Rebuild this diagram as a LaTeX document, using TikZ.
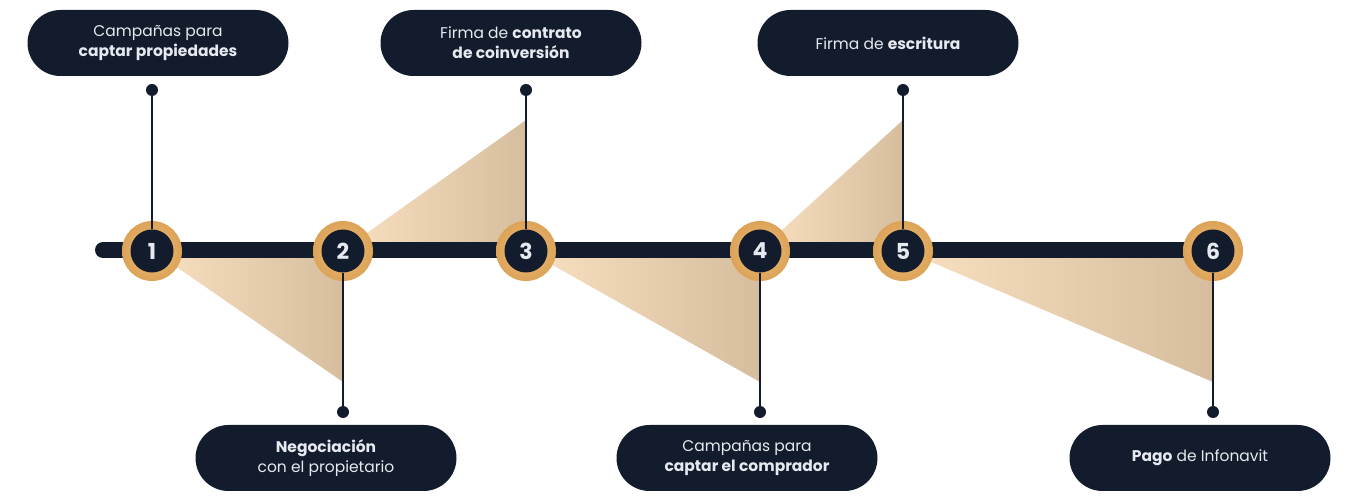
\documentclass[tikz,border=0pt]{standalone}
\usepackage{fontspec}
\setmainfont{Poppins}
\usetikzlibrary{positioning}
\definecolor{navy}{HTML}{131C2C}
\definecolor{paper}{HTML}{E6E9EF}
\definecolor{goldA}{HTML}{F0C07A}
\definecolor{goldB}{HTML}{DCA358}
\definecolor{sandA}{HTML}{F8E0C0}
\definecolor{sandB}{HTML}{D5BD9D}
\tikzset{
  pill/.style={fill=navy,text=paper,rounded corners=33pt,minimum width=261pt,
    minimum height=66pt,align=center,font=\fontsize{15.5}{20}\selectfont},
  stepnum/.style={circle,fill=navy,minimum size=43pt,
    inner sep=0pt,text=paper,font=\bfseries\fontsize{22}{22}\selectfont},
  dot/.style={circle,fill=navy,minimum size=12pt,inner sep=0pt},
  stem/.style={navy,line width=2pt}
}
\begin{document}
\begin{tikzpicture}[x=1pt,y=-1pt]
  \useasboundingbox (0,0) rectangle (1361,502);
  % wedges between the steps
  \shade[left color=sandA,right color=sandB] (152,250) -- (343,250) -- (343,382) -- cycle;
  \shade[left color=sandA,right color=sandB] (343,250) -- (526,250) -- (526,120) -- cycle;
  \shade[left color=sandA,right color=sandB] (526,250) -- (760,250) -- (760,382) -- cycle;
  \shade[left color=sandA,right color=sandB] (760,250) -- (903,250) -- (903,120) -- cycle;
  \shade[left color=sandA,right color=sandB] (903,250) -- (1213,250) -- (1213,382) -- cycle;
  % timeline
  \coordinate (start) at (103,250);
  \coordinate (end) at (1213,250);
  \draw[navy,line width=16pt,line cap=round] (start) -- (end);
  % dots and boxes
  \node[dot] (d1) at (152,90) {};
  \node[dot] (d2) at (343,412) {};
  \node[dot] (d3) at (526,90) {};
  \node[dot] (d4) at (760,412) {};
  \node[dot] (d5) at (903,90) {};
  \node[dot] (d6) at (1213,412) {};
  \node[pill] (b1) at (158,43) {Campañas para\\\textbf{captar propiedades}};
  \node[pill] (b2) at (326,458) {\textbf{Negociación}\\con el propietario};
  \node[pill] (b3) at (511,43) {Firma de \textbf{contrato}\\\textbf{de coinversión}};
  \node[pill] (b4) at (747,458) {Campañas para\\\textbf{captar el comprador}};
  \node[pill] (b5) at (888,43) {Firma de \textbf{escritura}};
  \node[pill] (b6) at (1200,458) {\textbf{Pago} de Infonavit};
  % step circles
  \foreach \n/\x in {1/152,2/343,3/526,4/760,5/903,6/1213}
    \shade[inner color=goldA,outer color=goldB] (\x,251) circle (30pt);
  \foreach \n/\x in {1/152,2/343,3/526,4/760,5/903,6/1213}
    \node[stepnum] (c\n) at (\x,251) {\n};
  % stems
  \foreach \n in {1,...,6}
    \draw[stem] (c\n) -- (d\n);
\end{tikzpicture}
\end{document}
